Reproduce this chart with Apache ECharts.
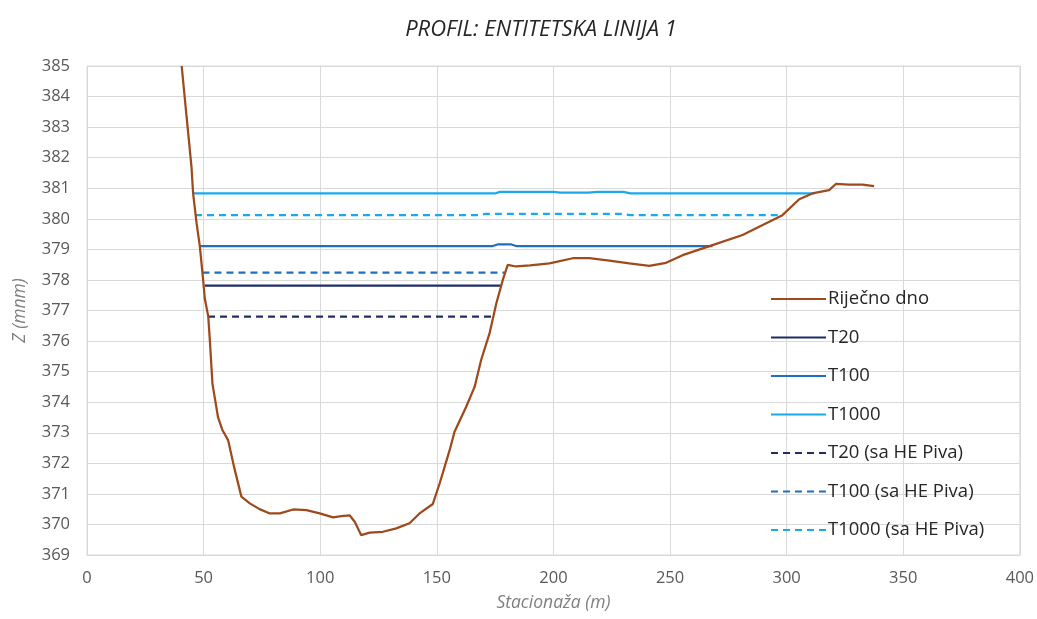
<!DOCTYPE html>
<html>
<head>
<meta charset="utf-8">
<script src="https://cdn.jsdelivr.net/npm/echarts@6/dist/echarts.min.js"></script>
<style>html,body{margin:0;padding:0;background:#fff;}#c{width:1037px;height:619px;}</style>
</head>
<body>
<div id="c"></div>
<script>
// Riverbed profile (station m, elevation m n.m.)
const bedX = [40.6,42.7,44.8,45.5,47.0,48.4,49.8,50.5,52.0,52.7,53.8,56.2,58.0,60.5,63.0,66.2,69.8,74.0,78.4,82.7,88.4,94.1,99.8,105.5,109.1,112.6,114.8,117.6,121.2,126.9,132.6,138.3,142.6,148.3,151.2,155.5,157.6,162.6,166.2,169.0,172.6,175.5,178.3,180.4,184.0,190.0,198.3,208.3,215.4,224.0,232.5,241.1,248.3,255.4,268.2,281.1,288.2,298.2,305.4,311.0,318.2,321.1,326.8,332.5,337.5];
const bedZ = [385.0,383.34,381.7,380.83,379.85,379.09,378.0,377.4,376.8,376.0,374.6,373.5,373.1,372.76,371.9,370.91,370.69,370.5,370.36,370.36,370.49,370.47,370.36,370.23,370.27,370.3,370.09,369.65,369.73,369.76,369.87,370.04,370.36,370.67,371.34,372.43,373.03,373.85,374.5,375.38,376.25,377.23,378.0,378.49,378.44,378.48,378.54,378.71,378.71,378.63,378.54,378.46,378.56,378.81,379.14,379.47,379.74,380.12,380.64,380.83,380.94,381.14,381.12,381.12,381.07];

const t20X = [50.5, 177.6];
const t20Z = [377.81, 377.81];
const t100X = [48.1, 174, 176, 182, 184, 268.2];
const t100Z = [379.11, 379.11, 379.16, 379.16, 379.11, 379.11];
const t1000X = [45.3, 175, 177, 200, 203, 215, 219, 230, 233, 312];
const t1000Z = [380.83, 380.83, 380.88, 380.88, 380.86, 380.86, 380.88, 380.88, 380.83, 380.83];
const t20hX = [51.9, 174.0];
const t20hZ = [376.8, 376.8];
const t100hX = [49.5, 179.0];
const t100hZ = [378.24, 378.24];
const t1000hX = [46.3, 168, 171, 230, 233, 298.2];
const t1000hZ = [380.12, 380.12, 380.16, 380.16, 380.12, 380.12];

const seriesNames = ['Riječno dno','T20','T100','T1000','T20 (sa HE Piva)','T100 (sa HE Piva)','T1000 (sa HE Piva)'];
const titleText = 'PROFIL: ENTITETSKA LINIJA 1';
const xName = 'Stacionaža (m)';
const yName = 'Z (mnm)';

const pairs = (xs, zs) => xs.map((x, i) => [x, zs[i]]);
const FONT = '"Open Sans", sans-serif';

function mk(name, xs, zs, color, dashed) {
  return {
    name: name, type: 'line', data: pairs(xs, zs),
    symbol: 'none', smooth: false,
    lineStyle: { color: color, width: 2.25, type: dashed ? [7, 5] : 'solid' },
    itemStyle: { color: color },
    emphasis: { disabled: true },
    z: name === seriesNames[0] ? 3 : 2
  };
}

const chart = echarts.init(document.getElementById('c'), null, { renderer: 'canvas' });
chart.setOption({
  animation: false,
  backgroundColor: '#ffffff',
  title: {
    text: titleText, left: 536, top: 14, textAlign: 'center',
    textStyle: { fontFamily: FONT, fontStyle: 'italic', fontWeight: 'normal', fontSize: 22, color: '#262626' }
  },
  grid: { left: 87, right: 16, top: 66, bottom: 64, show: true, borderColor: '#d9d9d9', borderWidth: 1 },
  legend: {
    orient: 'vertical', left: 765, top: 283,
    itemWidth: 55, itemHeight: 14, itemGap: 16.5,
    itemStyle: { opacity: 0 },
    textStyle: { fontFamily: FONT, fontSize: 18.5, color: '#262626', lineHeight: 22, padding: [0,0,0,-3] },
    data: seriesNames
  },
  xAxis: {
    type: 'value', min: 0, max: 400, interval: 50,
    name: xName, nameLocation: 'middle', nameGap: 39,
    nameTextStyle: { fontFamily: FONT, fontStyle: 'italic', fontSize: 17.5, color: '#7f7f7f' },
    axisLine: { show: true, lineStyle: { color: '#d9d9d9' } },
    axisTick: { show: false },
    axisLabel: { fontFamily: FONT, fontSize: 16.5, color: '#595959', margin: 15 },
    splitLine: { show: true, lineStyle: { color: '#d9d9d9' } }
  },
  yAxis: {
    type: 'value', min: 369, max: 385, interval: 1,
    name: yName, nameLocation: 'middle', nameGap: 58, nameRotate: 90,
    nameTextStyle: { fontFamily: FONT, fontStyle: 'italic', fontSize: 17.5, color: '#7f7f7f' },
    axisLine: { show: true, lineStyle: { color: '#d9d9d9' } },
    axisTick: { show: false },
    axisLabel: { fontFamily: FONT, fontSize: 16.5, color: '#595959', margin: 17 },
    splitLine: { show: true, lineStyle: { color: '#d9d9d9' } }
  },
  series: [
    mk(seriesNames[0], bedX, bedZ, '#9E4A1C', false),
    mk(seriesNames[1], t20X, t20Z, '#1F2F66', false),
    mk(seriesNames[2], t100X, t100Z, '#1F6FBF', false),
    mk(seriesNames[3], t1000X, t1000Z, '#1AAAEC', false),
    mk(seriesNames[4], t20hX, t20hZ, '#1F2F66', true),
    mk(seriesNames[5], t100hX, t100hZ, '#1F6FBF', true),
    mk(seriesNames[6], t1000hX, t1000hZ, '#1AAAEC', true)
  ]
});
</script>
</body>
</html>
